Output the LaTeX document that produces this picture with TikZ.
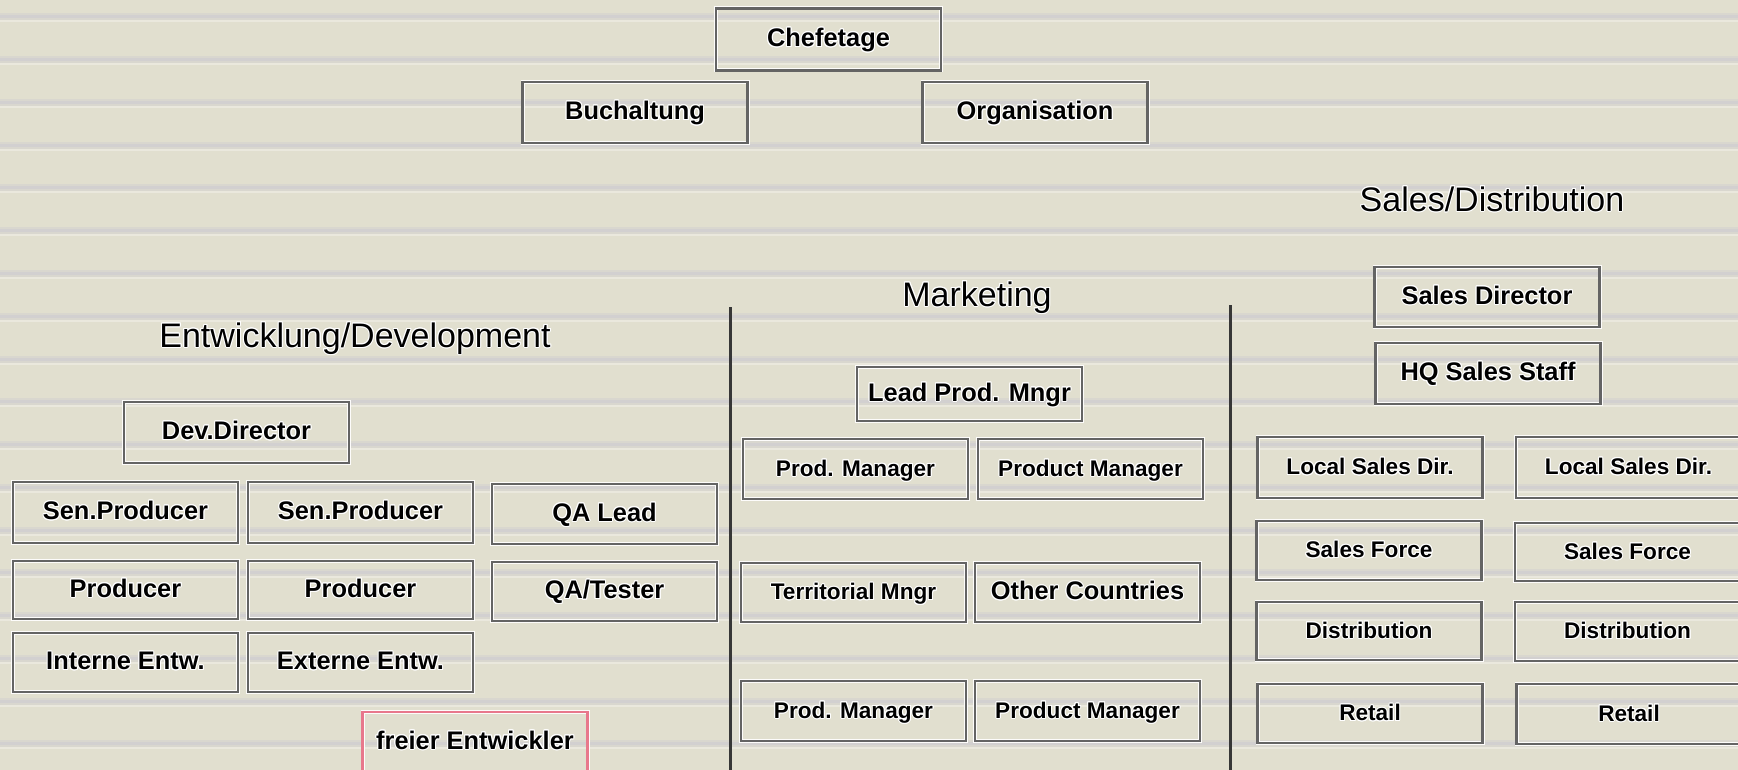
\documentclass[tikz,border=0pt]{standalone}
\usepackage{fontspec}
\setmainfont{Liberation Sans}
\usepackage[copies]{contour}
\contourlength{0.5pt}
\contournumber{16}

\definecolor{panel}{RGB}{225,223,207}
\definecolor{band}{RGB}{210,208,208}
\definecolor{frame}{RGB}{100,100,100}
\definecolor{rule}{RGB}{55,55,55}
\definecolor{pinkframe}{RGB}{232,120,140}

\newcommand{\halo}[1]{\contour{white}{#1}}

\tikzset{
  box/.style={draw=frame, line width=1.4pt,
    preaction={draw=white!92!panel, line width=2.0pt},
    minimum width=112.5pt, minimum height=30pt, inner sep=0pt,
    text height=0.72em, text depth=0pt,
    font=\fontsize{12.7}{15}\selectfont\bfseries},
  smallbox/.style={box, font=\fontsize{11.3}{14}\selectfont\bfseries},
  pinkbox/.style={box, draw=pinkframe},
  title/.style={inner sep=0pt, text height=0.72em, text depth=0pt,
    font=\fontsize{17}{20}\selectfont},
  divider/.style={draw=rule, line width=1.5pt}
}

\begin{document}
\begin{tikzpicture}[x=0.5pt, y=-0.5pt]
  \useasboundingbox (0,0) rectangle (1738,770);
  \begin{scope}
    \clip (0,0) rectangle (1738,770);
    % striped backdrop
    \fill[panel] (0,0) rectangle (1738,770);
    \foreach \k in {0,...,17} {
      \fill[band, opacity=0.5] (0,{13.5+42.75*\k}) rectangle (1738,{20.5+42.75*\k});
      \fill[band] (0,{15.5+42.75*\k}) rectangle (1738,{18.5+42.75*\k});
      \fill[white, opacity=0.3] (0,{20.5+42.75*\k}) rectangle (1738,{22.5+42.75*\k});
    }

    % management
    \node[box, minimum height=31pt] (chef) at (828.5,39.5) {\halo{Chefetage}};
    \node[box, minimum height=30.5pt] (buch) at (635,112.5) {\halo{Buchaltung}};
    \node[box, minimum height=30.5pt] (orga) at (1035,112.5) {\halo{Organisation}};

    % section titles
    \node[title] (tdev) at (355,340) {\halo{Entwicklung/Development}};
    \node[title] (tmkt) at (977,299) {\halo{Marketing}};
    \node[title] (tsal) at (1492,204) {\halo{Sales/Distribution}};

    % development
    \node[box, minimum height=30.5pt] (dev) at (236.5,432.5) {\halo{Dev.Director}};
    \node[box, minimum height=30.5pt] (sp1) at (125.5,512.5) {\halo{Sen.Producer}};
    \node[box, minimum height=30.5pt] (sp2) at (360.5,512.5) {\halo{Sen.Producer}};
    \node[box, minimum height=29pt] (pr1) at (125.5,590) {\halo{Producer}};
    \node[box, minimum height=29pt] (pr2) at (360.5,590) {\halo{Producer}};
    \node[box, minimum height=29.5pt] (int) at (125.5,662.5) {\halo{Interne Entw.}};
    \node[box, minimum height=29.5pt] (ext) at (360.5,662.5) {\halo{Externe Entw.}};
    \node[pinkbox, minimum height=30pt] (frei) at (475,742) {\halo{freier Entwickler}};
    \node[box, minimum height=30pt] (qal) at (604.5,514) {\halo{QA Lead}};
    \node[box, minimum height=29.5pt] (qat) at (604.5,591.5) {\halo{QA/Tester}};

    % marketing
    \node[box, minimum height=27pt] (lpm) at (969.5,394) {\halo{Lead Prod. Mngr}};
    \node[smallbox, minimum height=30pt] (pm1) at (855.5,469) {\halo{Prod. Manager}};
    \node[smallbox, minimum height=30pt] (pm2) at (1090.5,469) {\halo{Product Manager}};
    \node[smallbox, minimum height=29.5pt] (ter) at (853.5,592.5) {\halo{Territorial Mngr}};
    \node[box, minimum height=29.5pt] (oth) at (1087.5,592.5) {\halo{Other Countries}};
    \node[smallbox, minimum height=30pt] (pm3) at (853.5,711) {\halo{Prod. Manager}};
    \node[smallbox, minimum height=30pt] (pm4) at (1087.5,711) {\halo{Product Manager}};

    % sales / distribution
    \node[box, minimum height=30pt] (sd) at (1487,297) {\halo{Sales Director}};
    \node[box, minimum height=30.5pt] (hq) at (1488,373.5) {\halo{HQ Sales Staff}};
    \node[smallbox, minimum height=30.5pt] (lsd1) at (1370,467.5) {\halo{Local Sales Dir.}};
    \node[smallbox, minimum height=30.5pt] (lsd2) at (1628.5,467.5) {\halo{Local Sales Dir.}};
    \node[smallbox, minimum height=29.5pt] (sf1) at (1369,550.5) {\halo{Sales Force}};
    \node[smallbox, minimum height=29pt] (sf2) at (1627.5,552) {\halo{Sales Force}};
    \node[smallbox, minimum height=29pt] (dis1) at (1369,631) {\halo{Distribution}};
    \node[smallbox, minimum height=29.5pt] (dis2) at (1627.5,631.5) {\halo{Distribution}};
    \node[smallbox, minimum height=29.5pt] (ret1) at (1370,713.5) {\halo{Retail}};
    \node[smallbox, minimum height=30pt] (ret2) at (1629,714) {\halo{Retail}};

    % section dividers
    \coordinate (d1t) at (730,307);
    \coordinate (d1b) at (730,772);
    \coordinate (d2t) at (1230,305);
    \coordinate (d2b) at (1230,772);
    \draw[divider] (d1t) -- (d1b);
    \draw[divider] (d2t) -- (d2b);
  \end{scope}
\end{tikzpicture}
\end{document}
